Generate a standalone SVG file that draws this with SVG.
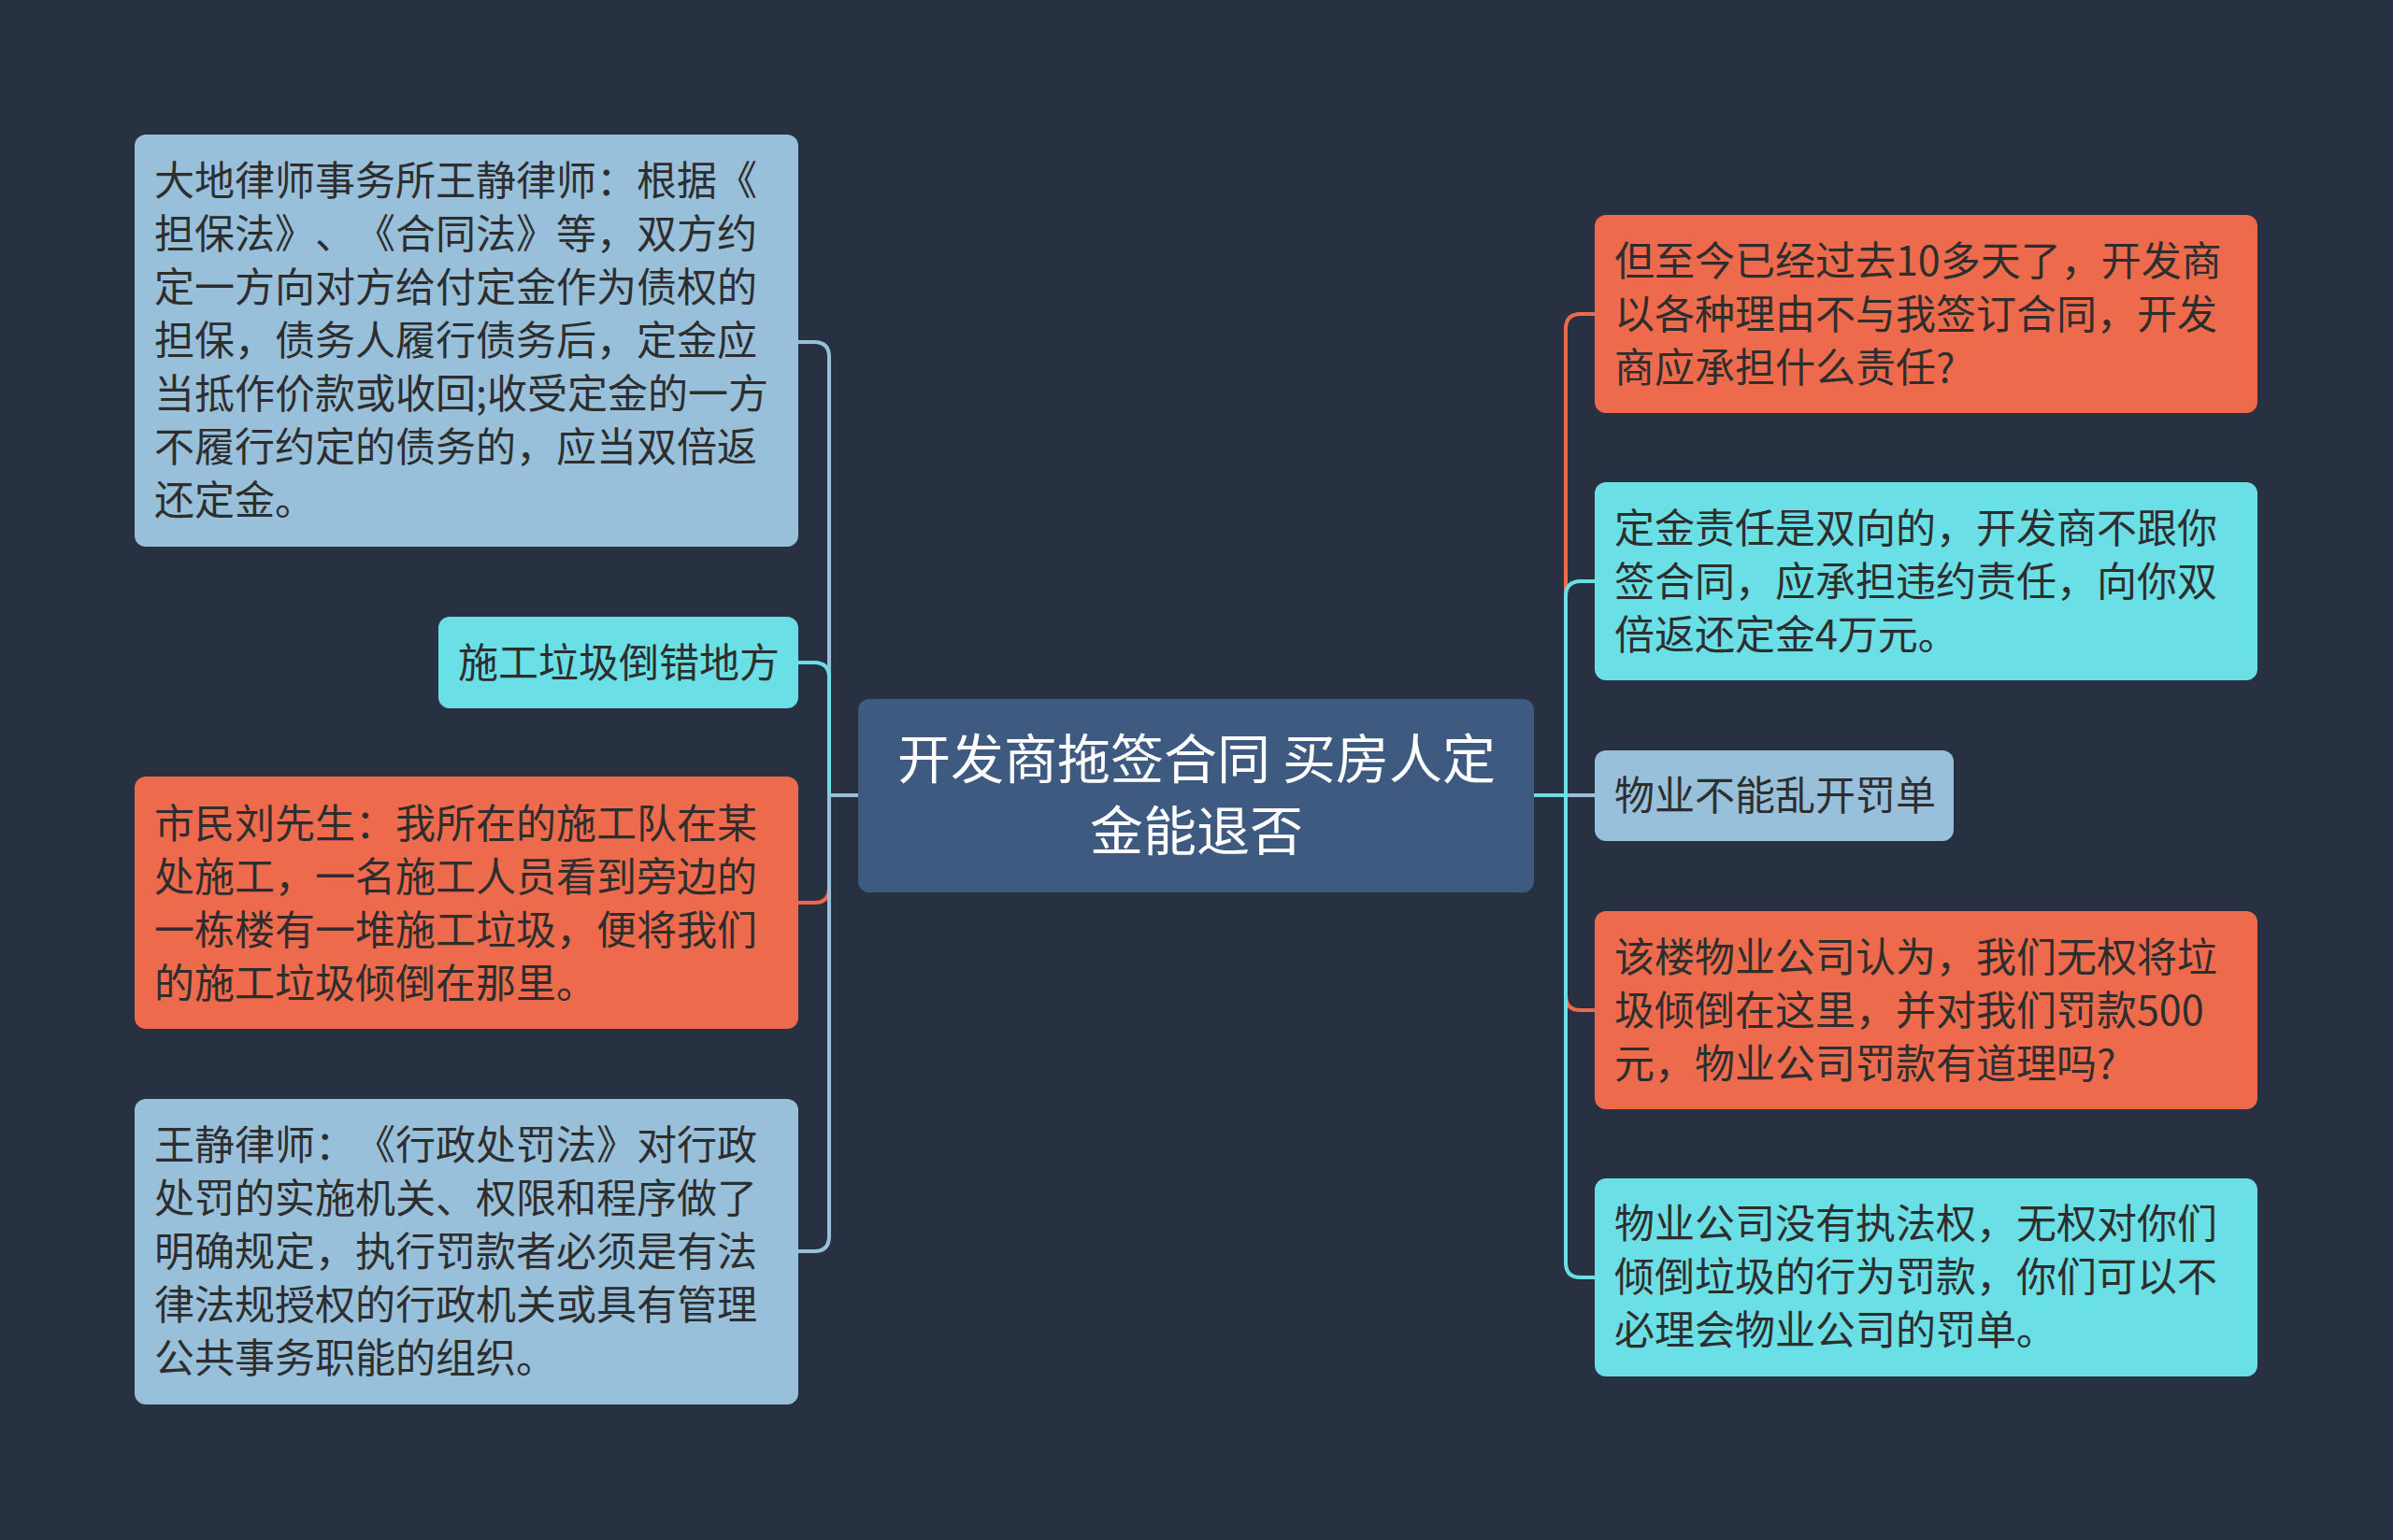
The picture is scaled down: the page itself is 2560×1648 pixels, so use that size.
<svg xmlns="http://www.w3.org/2000/svg" width="2560" height="1648" viewBox="0 0 2560 1648">
<style>
.t{font-family:"Noto Sans CJK SC","Noto Sans",sans-serif;font-size:43px;fill:#2e2e2e;text-spacing-trim:space-all}
.c{font-family:"Noto Sans CJK SC","Noto Sans",sans-serif;font-size:57px;fill:#ffffff;text-anchor:middle}
.lb{fill:#98c0da}.cy{fill:#6adfe5}.or{fill:#ee6a4c}.ce{fill:#3e5a80}
.k{fill:none;stroke-width:4}
.klb{stroke:#98c0da}.kcy{stroke:#6adfe5}.kor{stroke:#ee6a4c}
</style>
<rect width="2560" height="1648" fill="#283142"/>
<g id="connectors">
<path class="k klb" d="M918 851 H887 V382 Q887 366 871 366 H854"/>
<path class="k kcy" d="M918 851 H887 V725 Q887 709 871 709 H854"/>
<path class="k kor" d="M918 851 H887 V950 Q887 966 871 966 H854"/>
<path class="k klb" d="M918 851 H887 V1323 Q887 1339 871 1339 H854"/>
<path class="k kor" d="M1641 851 H1675 V352 Q1675 336 1691 336 H1706"/>
<path class="k kcy" d="M1641 851 H1675 V638 Q1675 622 1691 622 H1706"/>
<path class="k klb" d="M1641 851 H1706"/>
<path class="k kor" d="M1641 851 H1675 V1065 Q1675 1081 1691 1081 H1706"/>
<path class="k kcy" d="M1641 851 H1675 V1351 Q1675 1367 1691 1367 H1706"/>
</g>
<g id="center">
<rect class="ce" x="918" y="748" width="723" height="207" rx="12"/>
<text class="c" x="1280" y="833">开发商拖签合同 买房人定</text>
<text class="c" x="1280" y="910">金能退否</text>
</g>
<g id="nodeA">
<rect class="lb" x="144" y="144" width="710" height="441" rx="12"/>
<text class="t" x="165" y="209">大地律师事务所王静律师：根据《</text>
<text class="t" x="165" y="266">担保法》、《合同法》等，双方约</text>
<text class="t" x="165" y="323">定一方向对方给付定金作为债权的</text>
<text class="t" x="165" y="380">担保，债务人履行债务后，定金应</text>
<text class="t" x="165" y="437">当抵作价款或收回;收受定金的一方</text>
<text class="t" x="165" y="494">不履行约定的债务的，应当双倍返</text>
<text class="t" x="165" y="551">还定金。</text>
</g>
<g id="nodeB">
<rect class="cy" x="469" y="660" width="385" height="98" rx="12"/>
<text class="t" x="490" y="725">施工垃圾倒错地方</text>
</g>
<g id="nodeC">
<rect class="or" x="144" y="831" width="710" height="270" rx="12"/>
<text class="t" x="165" y="897">市民刘先生：我所在的施工队在某</text>
<text class="t" x="165" y="954">处施工，一名施工人员看到旁边的</text>
<text class="t" x="165" y="1011">一栋楼有一堆施工垃圾，便将我们</text>
<text class="t" x="165" y="1068">的施工垃圾倾倒在那里。</text>
</g>
<g id="nodeD">
<rect class="lb" x="144" y="1176" width="710" height="327" rx="12"/>
<text class="t" x="165" y="1241">王静律师：《行政处罚法》对行政</text>
<text class="t" x="165" y="1298">处罚的实施机关、权限和程序做了</text>
<text class="t" x="165" y="1355">明确规定，执行罚款者必须是有法</text>
<text class="t" x="165" y="1412">律法规授权的行政机关或具有管理</text>
<text class="t" x="165" y="1469">公共事务职能的组织。</text>
</g>
<g id="nodeR1">
<rect class="or" x="1706" y="230" width="709" height="212" rx="12"/>
<text class="t" x="1727" y="295">但至今已经过去10多天了，开发商</text>
<text class="t" x="1727" y="352">以各种理由不与我签订合同，开发</text>
<text class="t" x="1727" y="409">商应承担什么责任?</text>
</g>
<g id="nodeR2">
<rect class="cy" x="1706" y="516" width="709" height="212" rx="12"/>
<text class="t" x="1727" y="581">定金责任是双向的，开发商不跟你</text>
<text class="t" x="1727" y="638">签合同，应承担违约责任，向你双</text>
<text class="t" x="1727" y="695">倍返还定金4万元。</text>
</g>
<g id="nodeR3">
<rect class="lb" x="1706" y="803" width="384" height="97" rx="12"/>
<text class="t" x="1727" y="867">物业不能乱开罚单</text>
</g>
<g id="nodeR4">
<rect class="or" x="1706" y="975" width="709" height="212" rx="12"/>
<text class="t" x="1727" y="1040">该楼物业公司认为，我们无权将垃</text>
<text class="t" x="1727" y="1097">圾倾倒在这里，并对我们罚款500</text>
<text class="t" x="1727" y="1154">元，物业公司罚款有道理吗?</text>
</g>
<g id="nodeR5">
<rect class="cy" x="1706" y="1261" width="709" height="212" rx="12"/>
<text class="t" x="1727" y="1325">物业公司没有执法权，无权对你们</text>
<text class="t" x="1727" y="1382">倾倒垃圾的行为罚款，你们可以不</text>
<text class="t" x="1727" y="1439">必理会物业公司的罚单。</text>
</g>
</svg>
